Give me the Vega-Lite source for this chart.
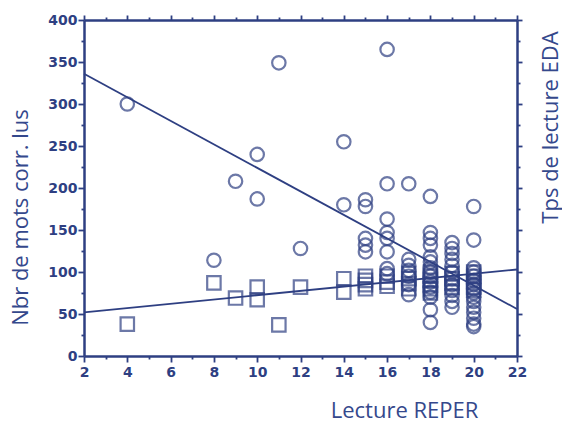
{
  "$schema": "https://vega.github.io/schema/vega-lite/v6.json",
  "width": 433,
  "height": 336,
  "autosize": "none",
  "padding": {"left": 84, "top": 20, "right": 45, "bottom": 67},
  "background": "white",
  "config": {"view": {"stroke": null}},
  "datasets": {
    "pts": [
      {"x": 4, "y": 300, "s": "circle"},
      {"x": 8, "y": 114, "s": "circle"},
      {"x": 9, "y": 208, "s": "circle"},
      {"x": 10, "y": 240, "s": "circle"},
      {"x": 10, "y": 187, "s": "circle"},
      {"x": 11, "y": 349, "s": "circle"},
      {"x": 12, "y": 128, "s": "circle"},
      {"x": 14, "y": 255, "s": "circle"},
      {"x": 14, "y": 180, "s": "circle"},
      {"x": 15, "y": 186, "s": "circle"},
      {"x": 15, "y": 178, "s": "circle"},
      {"x": 15, "y": 140, "s": "circle"},
      {"x": 15, "y": 132, "s": "circle"},
      {"x": 15, "y": 124, "s": "circle"},
      {"x": 16, "y": 365, "s": "circle"},
      {"x": 16, "y": 205, "s": "circle"},
      {"x": 16, "y": 163, "s": "circle"},
      {"x": 16, "y": 147, "s": "circle"},
      {"x": 16, "y": 140, "s": "circle"},
      {"x": 16, "y": 124, "s": "circle"},
      {"x": 16, "y": 104, "s": "circle"},
      {"x": 16, "y": 98, "s": "circle"},
      {"x": 17, "y": 205, "s": "circle"},
      {"x": 17, "y": 115, "s": "circle"},
      {"x": 17, "y": 108, "s": "circle"},
      {"x": 17, "y": 102, "s": "circle"},
      {"x": 17, "y": 95, "s": "circle"},
      {"x": 17, "y": 85, "s": "circle"},
      {"x": 17, "y": 73, "s": "circle"},
      {"x": 18, "y": 190, "s": "circle"},
      {"x": 18, "y": 147, "s": "circle"},
      {"x": 18, "y": 140, "s": "circle"},
      {"x": 18, "y": 132, "s": "circle"},
      {"x": 18, "y": 118, "s": "circle"},
      {"x": 18, "y": 112, "s": "circle"},
      {"x": 18, "y": 105, "s": "circle"},
      {"x": 18, "y": 100, "s": "circle"},
      {"x": 18, "y": 95, "s": "circle"},
      {"x": 18, "y": 88, "s": "circle"},
      {"x": 18, "y": 82, "s": "circle"},
      {"x": 18, "y": 76, "s": "circle"},
      {"x": 18, "y": 70, "s": "circle"},
      {"x": 18, "y": 55, "s": "circle"},
      {"x": 18, "y": 40, "s": "circle"},
      {"x": 19, "y": 135, "s": "circle"},
      {"x": 19, "y": 128, "s": "circle"},
      {"x": 19, "y": 122, "s": "circle"},
      {"x": 19, "y": 115, "s": "circle"},
      {"x": 19, "y": 108, "s": "circle"},
      {"x": 19, "y": 100, "s": "circle"},
      {"x": 19, "y": 92, "s": "circle"},
      {"x": 19, "y": 85, "s": "circle"},
      {"x": 19, "y": 78, "s": "circle"},
      {"x": 19, "y": 72, "s": "circle"},
      {"x": 19, "y": 65, "s": "circle"},
      {"x": 19, "y": 58, "s": "circle"},
      {"x": 20, "y": 178, "s": "circle"},
      {"x": 20, "y": 138, "s": "circle"},
      {"x": 20, "y": 105, "s": "circle"},
      {"x": 20, "y": 100, "s": "circle"},
      {"x": 20, "y": 95, "s": "circle"},
      {"x": 20, "y": 90, "s": "circle"},
      {"x": 20, "y": 85, "s": "circle"},
      {"x": 20, "y": 80, "s": "circle"},
      {"x": 20, "y": 75, "s": "circle"},
      {"x": 20, "y": 70, "s": "circle"},
      {"x": 20, "y": 65, "s": "circle"},
      {"x": 20, "y": 58, "s": "circle"},
      {"x": 20, "y": 52, "s": "circle"},
      {"x": 20, "y": 45, "s": "circle"},
      {"x": 20, "y": 38, "s": "circle"},
      {"x": 20, "y": 35, "s": "circle"},
      {"x": 4, "y": 38, "s": "square"},
      {"x": 8, "y": 87, "s": "square"},
      {"x": 9, "y": 69, "s": "square"},
      {"x": 10, "y": 82, "s": "square"},
      {"x": 10, "y": 67, "s": "square"},
      {"x": 11, "y": 37, "s": "square"},
      {"x": 12, "y": 82, "s": "square"},
      {"x": 14, "y": 92, "s": "square"},
      {"x": 14, "y": 76, "s": "square"},
      {"x": 15, "y": 95, "s": "square"},
      {"x": 15, "y": 90, "s": "square"},
      {"x": 15, "y": 85, "s": "square"},
      {"x": 15, "y": 80, "s": "square"},
      {"x": 16, "y": 95, "s": "square"},
      {"x": 16, "y": 88, "s": "square"},
      {"x": 16, "y": 83, "s": "square"},
      {"x": 17, "y": 98, "s": "square"},
      {"x": 17, "y": 92, "s": "square"},
      {"x": 17, "y": 86, "s": "square"},
      {"x": 17, "y": 80, "s": "square"},
      {"x": 18, "y": 100, "s": "square"},
      {"x": 18, "y": 95, "s": "square"},
      {"x": 18, "y": 90, "s": "square"},
      {"x": 18, "y": 85, "s": "square"},
      {"x": 18, "y": 80, "s": "square"},
      {"x": 18, "y": 75, "s": "square"},
      {"x": 19, "y": 98, "s": "square"},
      {"x": 19, "y": 92, "s": "square"},
      {"x": 19, "y": 87, "s": "square"},
      {"x": 19, "y": 82, "s": "square"},
      {"x": 20, "y": 100, "s": "square"},
      {"x": 20, "y": 95, "s": "square"},
      {"x": 20, "y": 88, "s": "square"},
      {"x": 20, "y": 82, "s": "square"},
      {"x": 20, "y": 78, "s": "square"}
    ],
    "lines": [
      {"x": 2, "y": 336, "id": "a"},
      {"x": 22, "y": 56, "id": "a"},
      {"x": 2, "y": 52, "id": "b"},
      {"x": 22, "y": 103, "id": "b"}
    ]
  },
  "resolve": {"axis": {"x": "independent", "y": "independent"}},
  "layer": [
    {
      "data": {"name": "pts"},
      "mark": {"type": "point", "filled": false, "strokeWidth": 2.2, "size": 180, "color": "#2e3f82", "clip": false},
      "encoding": {
        "x": {
          "field": "x", "type": "quantitative",
          "scale": {"domain": [2, 22], "nice": false, "zero": false},
          "axis": {
            "orient": "bottom", "grid": false,
            "values": [2,3,4,5,6,7,8,9,10,11,12,13,14,15,16,17,18,19,20,21,22],
            "labelExpr": "datum.value % 2 === 0 ? datum.label : ''",
            "tickSize": {"condition": {"test": "datum.value % 2 === 0", "value": 6}, "value": 3},
            "tickColor": "#2e3f82", "tickWidth": 1.8,
            "domainColor": "#2e3f82", "domainWidth": 2.5,
            "labelColor": "#2e3f82", "labelFont": "DejaVu Sans", "labelFontSize": 14, "labelFontWeight": "bold", "labelPadding": 3,
            "labelFlush": false,
            "title": "Lecture REPER", "titleColor": "#34488c", "titleFont": "Open Sans", "titleFontSize": 22, "titleFontWeight": "normal",
            "titleAnchor": "middle", "titleAlign": "center", "titleBaseline": "middle", "titleX": 320, "titleY": 54
          }
        },
        "y": {
          "field": "y", "type": "quantitative",
          "scale": {"domain": [0, 400], "nice": false},
          "axis": {
            "orient": "left", "grid": false,
            "values": [0,25,50,75,100,125,150,175,200,225,250,275,300,325,350,375,400],
            "labelExpr": "datum.value % 50 === 0 ? datum.label : ''",
            "tickSize": {"condition": {"test": "datum.value % 50 === 0", "value": 6}, "value": 3},
            "tickColor": "#2e3f82", "tickWidth": 1.8,
            "domainColor": "#2e3f82", "domainWidth": 2.5,
            "labelColor": "#2e3f82", "labelFont": "DejaVu Sans", "labelFontSize": 14, "labelFontWeight": "bold", "labelPadding": 1,
            "labelFlush": false,
            "title": "Nbr de mots corr. lus", "titleColor": "#34488c", "titleFont": "Open Sans", "titleFontSize": 22, "titleFontWeight": "normal",
            "titleAngle": 270, "titleAlign": "center", "titleBaseline": "middle", "titleX": -64, "titleY": 197
          }
        },
        "shape": {
          "field": "s", "type": "nominal",
          "scale": {"domain": ["circle", "square"], "range": ["circle", "square"]},
          "legend": null
        }
      }
    },
    {
      "data": {"name": "lines"},
      "mark": {"type": "line", "color": "#2e3f82", "strokeWidth": 1.8},
      "encoding": {
        "x": {
          "field": "x", "type": "quantitative",
          "axis": {
            "orient": "top", "grid": false,
            "values": [2,3,4,5,6,7,8,9,10,11,12,13,14,15,16,17,18,19,20,21,22],
            "labels": false,
            "tickSize": {"condition": {"test": "datum.value % 2 === 0", "value": 5}, "value": 3},
            "tickColor": "#2e3f82", "tickWidth": 1.8,
            "domainColor": "#2e3f82", "domainWidth": 2.5,
            "title": null
          }
        },
        "y": {
          "field": "y", "type": "quantitative",
          "axis": {
            "orient": "right", "grid": false,
            "values": [0,25,50,75,100,125,150,175,200,225,250,275,300,325,350,375,400],
            "labels": false,
            "tickSize": {"condition": {"test": "datum.value % 50 === 0", "value": 5}, "value": 3},
            "tickColor": "#2e3f82", "tickWidth": 1.8,
            "domainColor": "#2e3f82", "domainWidth": 2.5,
            "title": "Tps de lecture EDA", "titleColor": "#34488c", "titleFont": "Open Sans", "titleFontSize": 22, "titleFontWeight": "normal",
            "titleAngle": 270, "titleAlign": "center", "titleBaseline": "middle", "titleX": 33, "titleY": 107
          }
        },
        "detail": {"field": "id", "type": "nominal"}
      }
    }
  ]
}
